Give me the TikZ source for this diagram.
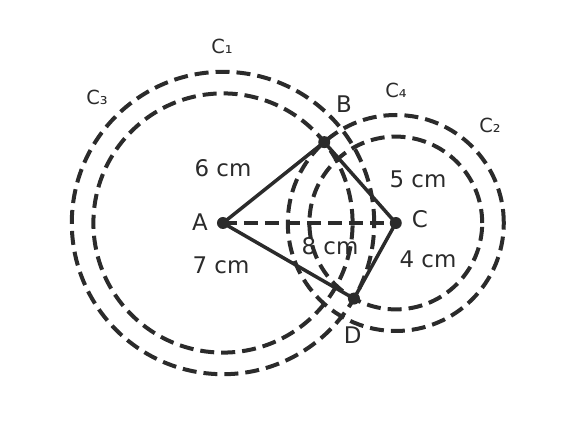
\documentclass[tikz,border=0pt]{standalone}
\usepackage{fontspec}
\setmainfont{DejaVu Sans}
\begin{document}
\begin{tikzpicture}[x=21.6bp, y=21.6bp,
  dot/.style = {circle, fill=ink, inner sep=0pt, minimum size=12bp},
  circ/.style = {draw=ink, line width=4bp, dash pattern=on 14bp off 7bp},
  side/.style = {draw=ink, line width=3.5bp},
  lbl/.style = {text=ink, font=\fontsize{23}{27}\selectfont},
  clbl/.style = {text=ink, font=\fontsize{19.5}{23}\selectfont}]
\definecolor{ink}{HTML}{2B2B2B}
\useasboundingbox (-10.324,-10.324) rectangle (16.343,10.324);
\coordinate (A) at (0,0);
\coordinate (C) at (8,0);
\coordinate (B) at (4.6875,3.745);
\coordinate (D) at (6.0625,-3.4995);
% circles
\draw[circ] (A) circle (6);
\draw[circ] (A) circle (7);
\draw[circ] (C) circle (4);
\draw[circ] (C) circle (5);
% sides
\draw[side] (A) -- (B);
\draw[side] (B) -- (C);
\draw[side] (C) -- (D);
\draw[side] (D) -- (A);
\draw[circ, line width=3.5bp] (A) -- (C);
\node[dot] (pA) at (A) {};
\node[dot] (pC) at (C) {};
\node[dot] (pB) at (B) {};
\node[dot] (pD) at (D) {};
% labels
\node[lbl] (lA) at (-1.065,0.046) {A};
\node[lbl] (lC) at (9.12,0.185) {C};
\node[lbl] (lB) at (5.602,5.509) {B};
\node[lbl] (lD) at (6.009,-5.185) {D};
\node[lbl] (ab) at (0,2.546) {6 cm};
\node[lbl] (ad) at (-0.093,-1.944) {7 cm};
\node[lbl] (ac) at (4.954,-1.065) {8 cm};
\node[lbl] (bc) at (9.028,2.037) {5 cm};
\node[lbl] (cd) at (9.491,-1.667) {4 cm};
\node[clbl] (c1) at (-0.046,8.194) {C₁};
\node[clbl] (c3) at (-5.833,5.833) {C₃};
\node[clbl] (c4) at (8.009,6.157) {C₄};
\node[clbl] (c2) at (12.361,4.5) {C₂};
\end{tikzpicture}
\end{document}
